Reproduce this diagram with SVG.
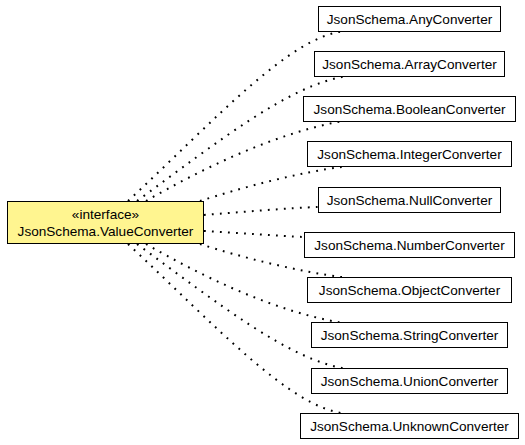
<svg xmlns="http://www.w3.org/2000/svg" width="525" height="445" viewBox="0 0 525 445">
<style>
  .bg { fill: #ffffff; }
  .box { fill: #ffffff; stroke: #000000; stroke-width: 1; }
  .iface { fill: #fff590; stroke: #000000; stroke-width: 1; }
  .lbl { font-family: "Liberation Sans", Arial, sans-serif; font-size: 13.6px; fill: #000000; text-anchor: middle; }
  .edge { fill: none; stroke: #000000; stroke-width: 2; stroke-dasharray: 1.8 6.2; }
</style>
<rect class="bg" x="0" y="0" width="525" height="445"/>
<g id="connectors">
  <path class="edge" d="M128,201 C215,120 290,36 345,31"/>
  <path class="edge" d="M137,201 C220,140 290,85 345,76.5"/>
  <path class="edge" d="M146,201 C200,170 270,135 340,121.5"/>
  <path class="edge" d="M200,201 C240,188 300,172 345,166.5"/>
  <path class="edge" d="M204,215 C240,212 290,208 318,207"/>
  <path class="edge" d="M204,231 C240,233 280,236 304,237"/>
  <path class="edge" d="M200,244 C240,257 300,272 345,277.5"/>
  <path class="edge" d="M146,244 C200,275 270,310 340,322.5"/>
  <path class="edge" d="M137,244 C220,305 290,360 345,368.5"/>
  <path class="edge" d="M128,244 C215,325 290,408 345,413.5"/>
</g>
<g id="ValueConverter">
  <rect class="iface" x="7.5" y="201.5" width="196" height="42"/>
  <text class="lbl" x="105.5" y="219">«interface»</text>
  <text class="lbl" x="105.5" y="235.5">JsonSchema.ValueConverter</text>
</g>
<g id="AnyConverter">
  <rect class="box" x="318.5" y="6.5" width="182" height="25"/>
  <text class="lbl" x="409.5" y="23.5">JsonSchema.AnyConverter</text>
</g>
<g id="ArrayConverter">
  <rect class="box" x="314.5" y="51.5" width="190" height="25"/>
  <text class="lbl" x="409.5" y="68.5">JsonSchema.ArrayConverter</text>
</g>
<g id="BooleanConverter">
  <rect class="box" x="303.5" y="96.5" width="212" height="25"/>
  <text class="lbl" x="409.5" y="113.5">JsonSchema.BooleanConverter</text>
</g>
<g id="IntegerConverter">
  <rect class="box" x="307.5" y="141.5" width="204" height="25"/>
  <text class="lbl" x="409.5" y="158.5">JsonSchema.IntegerConverter</text>
</g>
<g id="NullConverter">
  <rect class="box" x="318.5" y="187.5" width="182" height="25"/>
  <text class="lbl" x="409.5" y="204.5">JsonSchema.NullConverter</text>
</g>
<g id="NumberConverter">
  <rect class="box" x="304.5" y="232.5" width="210" height="25"/>
  <text class="lbl" x="409.5" y="249.5">JsonSchema.NumberConverter</text>
</g>
<g id="ObjectConverter">
  <rect class="box" x="307.5" y="277.5" width="204" height="25"/>
  <text class="lbl" x="409.5" y="294.5">JsonSchema.ObjectConverter</text>
</g>
<g id="StringConverter">
  <rect class="box" x="311.5" y="322.5" width="196" height="25"/>
  <text class="lbl" x="409.5" y="339.5">JsonSchema.StringConverter</text>
</g>
<g id="UnionConverter">
  <rect class="box" x="311.5" y="368.5" width="196" height="25"/>
  <text class="lbl" x="409.5" y="385.5">JsonSchema.UnionConverter</text>
</g>
<g id="UnknownConverter">
  <rect class="box" x="300.5" y="413.5" width="218" height="25"/>
  <text class="lbl" x="409.5" y="430.5">JsonSchema.UnknownConverter</text>
</g>
</svg>
